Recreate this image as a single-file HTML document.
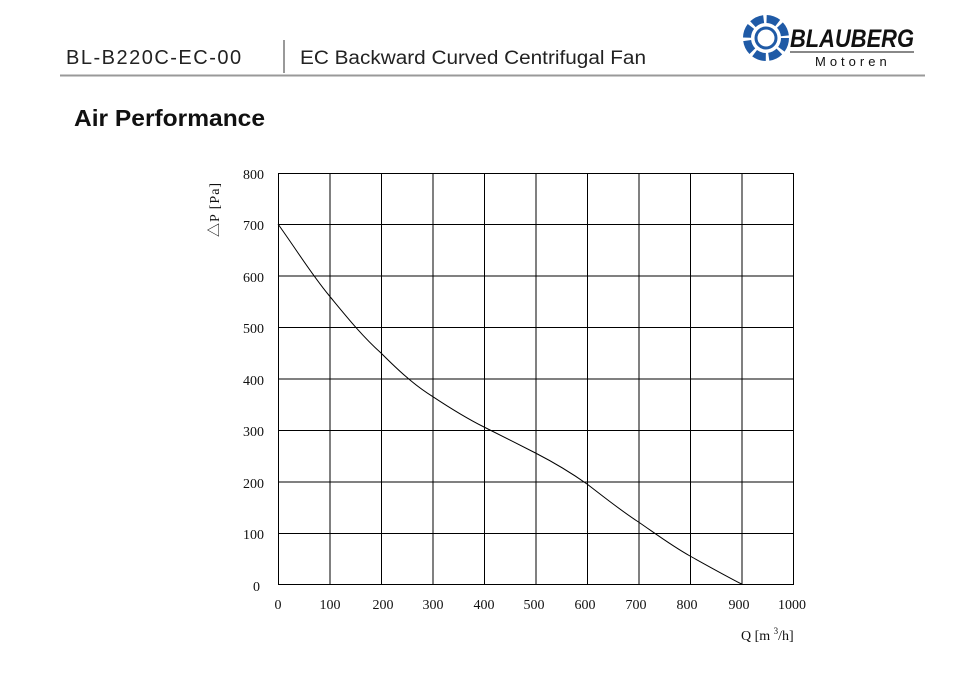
<!DOCTYPE html>
<html><head><meta charset="utf-8"><style>
html,body{margin:0;padding:0;background:#fff;width:962px;height:676px;overflow:hidden}
</style></head><body>
<svg width="962" height="676" viewBox="0 0 962 676" xmlns="http://www.w3.org/2000/svg">
<text x="66" y="64" font-family="Liberation Sans, sans-serif" font-size="20" letter-spacing="1.5" fill="#222">BL-B220C-EC-00</text>
<line x1="284" y1="40" x2="284" y2="73" stroke="#333" stroke-width="1"/>
<text x="300" y="64" font-family="Liberation Sans, sans-serif" font-size="19" fill="#222" textLength="346" lengthAdjust="spacingAndGlyphs">EC Backward Curved Centrifugal Fan</text>
<line x1="60" y1="75.5" x2="925" y2="75.5" stroke="#999" stroke-width="2"/>
<g transform="translate(766,38)">
<circle r="19" fill="none" stroke="#1f5aa6" stroke-width="8" stroke-dasharray="12 3"/>
<circle r="10" fill="none" stroke="#1f5aa6" stroke-width="3"/>
</g>
<text x="790" y="47" font-family="Liberation Sans, sans-serif" font-size="25" font-weight="bold" font-style="italic" fill="#111" textLength="124" lengthAdjust="spacingAndGlyphs">BLAUBERG</text>
<line x1="790" y1="52" x2="914" y2="52" stroke="#111" stroke-width="1"/>
<text x="815" y="66" font-family="Liberation Sans, sans-serif" font-size="13" letter-spacing="4" fill="#111">Motoren</text>
<text x="74" y="126" font-family="Liberation Sans, sans-serif" font-size="23" font-weight="bold" fill="#111" textLength="191" lengthAdjust="spacingAndGlyphs">Air Performance</text>
<g stroke="#000" stroke-width="1" fill="none">
<rect x="278.5" y="173.5" width="515" height="411"/>
<path d="M330 173V584M381.5 173V584M433 173V584M484.5 173V584M536 173V584M587.5 173V584M639 173V584M690.5 173V584M742 173V584"/>
<path d="M278 224.5H793M278 276H793M278 327.5H793M278 379H793M278 430.5H793M278 482H793M278 533.5H793"/>
<path d="M278,224 C300,255 312,275 329.5,296 C346,316 362,336 381,353 C398,370 414,385 432.5,396.4 C450,408 466,418 484,427 C502,436 518,444 535.5,453 C553,462 570,472 587,484 C604,497 620,510 638.5,522 C656,534 672,546 690,556 C708,566 724,575 741.5,584"/>
</g>
<g font-family="Liberation Serif, serif" font-size="14" fill="#111" text-anchor="end">
<text x="264" y="179">800</text><text x="264" y="230">700</text><text x="264" y="282">600</text><text x="264" y="333">500</text><text x="264" y="385">400</text><text x="264" y="436">300</text><text x="264" y="488">200</text><text x="264" y="539">100</text><text x="260" y="591">0</text>
</g>
<g font-family="Liberation Serif, serif" font-size="14" fill="#111" text-anchor="middle">
<text x="278" y="609">0</text><text x="330" y="609">100</text><text x="383" y="609">200</text><text x="433" y="609">300</text><text x="484" y="609">400</text><text x="534" y="609">500</text><text x="585" y="609">600</text><text x="636" y="609">700</text><text x="687" y="609">800</text><text x="739" y="609">900</text><text x="792" y="609">1000</text>
</g>
<text x="741" y="640" font-family="Liberation Serif, serif" font-size="14" fill="#111">Q [m <tspan font-size="9" dy="-6">3</tspan><tspan dy="6">/h]</tspan></text>
<text transform="translate(219,237) rotate(-90)" font-family="Liberation Serif, 'Noto Sans CJK SC', serif" font-size="14" fill="#111" letter-spacing="1">△P [Pa]</text>
</svg>
</body></html>
